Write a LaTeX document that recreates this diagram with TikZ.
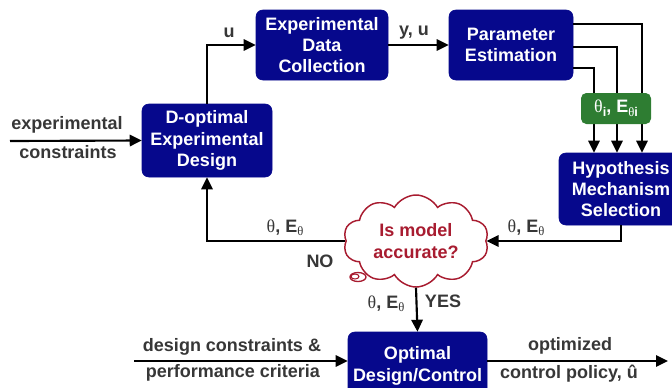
\documentclass[tikz,border=0pt]{standalone}
\usepackage{fontspec}
\setmainfont{Liberation Sans}
\newfontfamily\greekfont{Liberation Serif}
\usetikzlibrary{positioning,arrows.meta,shapes.symbols}
\definecolor{boxnavy}{RGB}{6,8,140}
\definecolor{estgreen}{RGB}{46,125,50}
\definecolor{cloudred}{RGB}{168,28,48}
\definecolor{labelgray}{RGB}{55,55,55}
% small lowered subscript and the theta symbols
\newcommand{\lowsub}[1]{\raisebox{-0.4ex}{\fontsize{9.5}{10}\selectfont #1}}
\newcommand{\thsym}{{\greekfont\mdseries θ}}
\newcommand{\thE}{\thsym, E\lowsub{\thsym}}

\begin{document}
\begin{tikzpicture}[x=0.75pt,y=-0.75pt,
  boxfont/.style={font=\fontsize{13.5}{16}\selectfont\bfseries},
  block/.style={boxfont,fill=boxnavy,draw=boxnavy,text=white,rounded corners=5pt,align=center,inner sep=0pt},
  lbl/.style={boxfont,text=labelgray,anchor=base,inner sep=0pt},
  flow/.style={draw,line width=1.6pt,-{Triangle[length=9pt,width=8.5pt]}}]
\useasboundingbox (0,0) rectangle (672,387);
% Blocks
\node[block,minimum width=97.5pt,minimum height=54.75pt] (dopt) at (207,140.5) {D-optimal\\Experimental\\Design};
\node[block,minimum width=99pt,minimum height=52.5pt] (collect) at (322,45) {Experimental\\Data\\Collection};
\node[block,minimum width=93pt,minimum height=52.5pt] (param) at (511,45) {Parameter\\Estimation};
\node[block,minimum width=93pt,minimum height=54pt] (hyp) at (621,189) {Hypothesis\\Mechanism\\Selection};
\node[block,minimum width=104.25pt,minimum height=51pt] (opt) at (417.5,366) {Optimal\\Design/Control};
% Decision cloud
\node[cloud,cloud puffs=10,cloud puff arc=120,cloud ignores aspect,draw=cloudred,line width=1.1pt,fill=white,
  boxfont,text=cloudred,align=center,minimum width=109pt,minimum height=69pt,inner sep=0pt] (check) at (416,241) {Is model\\accurate?};
\draw[cloudred,line width=1pt,fill=white] (358,277) ellipse (8 and 4.5);
\draw[cloudred,line width=0.8pt] (355,276.5) ellipse (4 and 2.5);
% Free ends
\coordinate (expin) at (10,141);
\coordinate (desin) at (134,361);
\coordinate (polout) at (668,361);
% Connectors
\draw[flow] (expin) -- (dopt.west);
\draw[flow] (dopt.north) |- (collect.west);
\draw[flow] (collect) -- (param);
\foreach \ya/\xb in {24/642,47/617,68/594}
  \draw[flow] (param.east |- 0,\ya) -| (\xb,0 |- hyp.north);
\node[fill=estgreen,text=white,rounded corners=4pt,boxfont,minimum width=52.5pt,minimum height=23.25pt,inner sep=0pt] (est) at (616,108.5) {\thsym\lowsub{i}, E\lowsub{\thsym i}};
\draw[flow] (hyp.south) |- (check.east);
\draw[flow] (check.west) -| (dopt.south);
\draw[flow] (check.south) -- (opt.north);
\draw[flow] (desin) -- (desin -| opt.west);
\draw[flow] (opt.east |- polout) -- (polout);
% Labels
\node[lbl] at (67,129) {experimental};
\node[lbl] at (68,158) {constraints};
\node[lbl] at (229,37) {u};
\node[lbl] at (414,35) {y, u};
\node[lbl] at (526,232) {\thE};
\node[lbl] at (285,232) {\thE};
\node[lbl] at (320,267) {NO};
\node[lbl] at (386,308) {\thE};
\node[lbl] at (443,307) {YES};
\node[lbl] at (232,351) {design constraints \&};
\node[lbl] at (233,377) {performance criteria};
\node[lbl] at (570,350) {optimized};
\node[lbl] at (569,378) {control policy, û};
\end{tikzpicture}
\end{document}
